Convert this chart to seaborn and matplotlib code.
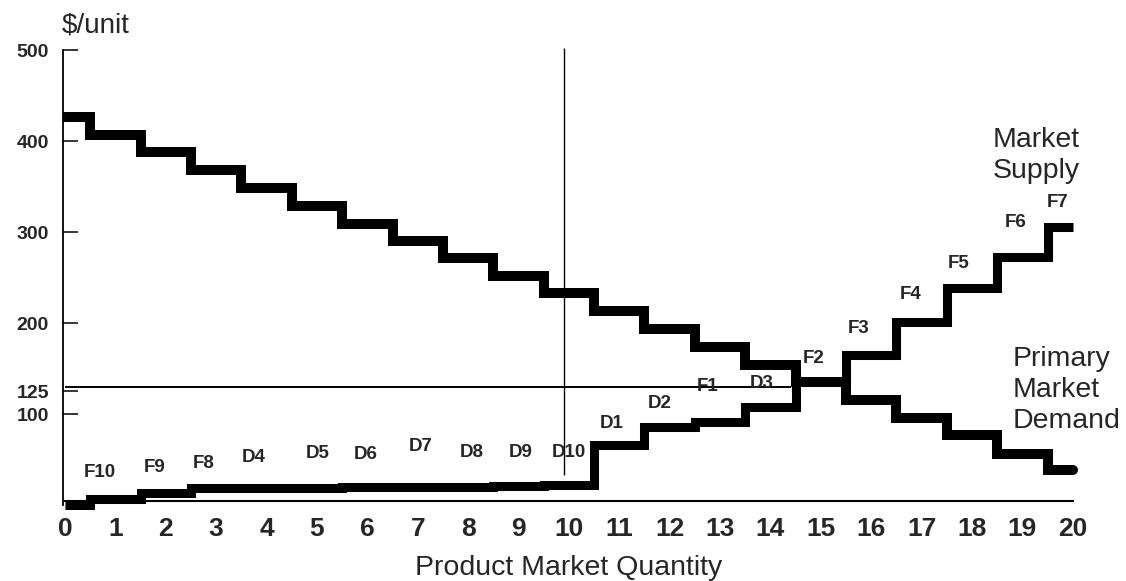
import matplotlib
matplotlib.use("Agg")
import matplotlib.pyplot as plt
import seaborn as sns
import pandas as pd

# ---- data ----
quantity = list(range(0, 21))
demand = [426, 407, 388, 368, 348, 329, 309, 290, 271, 252, 233,
          213, 193, 174, 154, 135, 115, 96, 77, 56, 38]
supply = [0, 7, 13, 19, 19, 19, 20, 20, 20, 21, 22,
          66, 86, 91, 108, 135, 165, 201, 238, 273, 306]

step_labels = ["F10", "F9", "F8", "D4", "D5", "D6", "D7", "D8", "D9", "D10",
               "D1", "D2", "F1", "D3", "F2", "F3", "F4", "F5", "F6", "F7"]
label_x = [0.69, 1.77, 2.76, 3.75, 5.02, 5.97, 7.06, 8.07, 9.05, 10.0,
           10.85, 11.8, 12.76, 13.83, 14.86, 15.75, 16.79, 17.74, 18.87, 19.7]
label_y = [36, 41, 46, 52, 57, 56, 64, 58, 58, 58,
           90, 112, 130, 134, 161, 194, 231, 266, 310, 333]

x_ticks = list(range(0, 21))
y_ticks = [100, 125, 200, 300, 400, 500]
ref_price = 130          # horizontal reference line (labelled 125)
ref_price_end = 14.4
ref_qty = 9.9            # vertical reference line
ref_qty_range = (33, 502)

df = pd.DataFrame({"q": quantity, "demand": demand, "supply": supply})

sns.set_style("white")
plt.rcParams["font.family"] = ["Liberation Sans", "DejaVu Sans"]

fig = plt.figure(figsize=(11.26, 5.81), dpi=100)
ax = fig.add_axes([63 / 1126, 1 - 509.5 / 581, (1103 - 63) / 1126, (509.5 - 41) / 581])

sns.lineplot(data=df, x="q", y="demand", ax=ax, color="black", lw=7.2,
             drawstyle="steps-mid", estimator=None,
             solid_capstyle="round", solid_joinstyle="miter")
sns.lineplot(data=df, x="q", y="supply", ax=ax, color="black", lw=6.5,
             drawstyle="steps-mid", estimator=None,
             solid_capstyle="butt", solid_joinstyle="miter")

ax.hlines(ref_price, 0, ref_price_end, color="black", lw=1.4)
ax.vlines(ref_qty, *ref_qty_range, color="black", lw=1.0)

for t, xx, yy in zip(step_labels, label_x, label_y):
    ax.text(xx, yy, t, ha="center", va="center", fontsize=13.5, fontweight="bold")

ax.text(18.41, 384, "Market\nSupply", ha="left", va="center", fontsize=20.5,
        linespacing=1.25, clip_on=False)
ax.text(18.81, 126, "Primary\nMarket\nDemand", ha="left", va="center",
        fontsize=20.5, linespacing=1.25, clip_on=False)
ax.text(-0.06, 527, "$/unit", ha="left", va="center", fontsize=20, clip_on=False)
ax.text(10, -69, "Product Market Quantity", ha="center", va="center",
        fontsize=20.5, clip_on=False)

ax.set_xlim(-0.04, 20.6)
ax.set_ylim(-4.9, 510)

ax.spines["top"].set_visible(False)
ax.spines["right"].set_visible(False)
ax.spines["left"].set_bounds(0, 500)
ax.spines["left"].set_linewidth(1.3)
ax.spines["bottom"].set_bounds(0, 20)
ax.spines["bottom"].set_position(("data", 4))
ax.spines["bottom"].set_linewidth(1.5)
for s in ax.spines.values():
    s.set_color("black")

ax.set_xticks(x_ticks)
ax.set_xticklabels([str(v) for v in x_ticks], fontsize=19, fontweight="bold")
ax.tick_params(axis="x", length=0, pad=11)
ax.set_yticks(y_ticks)
ax.set_yticklabels([str(v) for v in y_ticks], fontsize=14, fontweight="bold")
ax.tick_params(axis="y", direction="in", length=11, width=1.3, pad=10, left=True)

ax.set_xlabel("")
ax.set_ylabel("")

fig.savefig("out.png", dpi=100, facecolor="white")
